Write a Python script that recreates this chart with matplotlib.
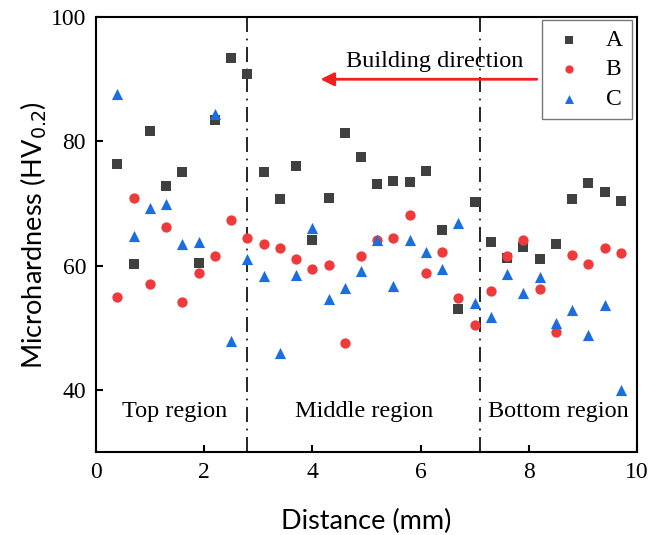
import matplotlib
matplotlib.use("Agg")
import matplotlib.pyplot as plt

distance = [0.4, 0.7, 1.0, 1.3, 1.6, 1.9, 2.2, 2.5, 2.8, 3.1, 3.4, 3.7, 4.0, 4.3, 4.6, 4.9,
            5.2, 5.5, 5.8, 6.1, 6.4, 6.7, 7.0, 7.3, 7.6, 7.9, 8.2, 8.5, 8.8, 9.1, 9.4, 9.7]
series_a = [76.3, 60.2, 81.7, 72.8, 75.1, 60.5, 83.4, 93.5, 90.8, 75.1, 70.8, 76.1, 64.1, 70.9, 81.3, 77.5,
            73.2, 73.6, 73.4, 75.2, 65.7, 53.1, 70.2, 63.8, 61.2, 63.0, 61.0, 63.5, 70.7, 73.3, 71.9, 70.4]
series_b = [55.0, 70.9, 57.0, 66.2, 54.1, 58.9, 61.5, 67.3, 64.5, 63.5, 62.9, 61.1, 59.4, 60.1, 47.5, 61.5,
            64.1, 64.5, 68.1, 58.9, 62.2, 54.8, 50.5, 55.9, 61.5, 64.1, 56.2, 49.4, 61.7, 60.2, 62.9, 62.1]
series_c = [87.7, 64.7, 69.3, 70.0, 63.5, 63.8, 84.4, 47.8, 61.0, 58.3, 45.9, 58.5, 66.1, 54.6, 56.4, 59.2,
            64.2, 56.8, 64.2, 62.2, 59.5, 66.9, 54.0, 51.7, 58.7, 55.6, 58.1, 50.7, 52.9, 48.9, 53.7, 40.0]
series_names = ["A", "B", "C"]
region_names = ["Top region", "Middle region", "Bottom region"]
region_bounds = [2.8, 7.1]
x_ticks = [0, 2, 4, 6, 8, 10]
y_ticks = [40, 60, 80, 100]

serif = ["Liberation Serif", "DejaVu Serif"]
sans = ["Lato", "DejaVu Sans"]

fig = plt.figure(figsize=(6.52, 5.35), dpi=100)
ax = fig.add_axes([0.147, 0.155, 0.83, 0.813])

ax.scatter(distance, series_a, marker="s", s=45, color="#404040", label=series_names[0], zorder=3, linewidths=0)
ax.scatter(distance, series_b, marker="o", s=55, color="#ee3a3a", label=series_names[1], zorder=3, linewidths=0)
ax.scatter(distance, series_c, marker="^", s=65, color="#1c6ede", label=series_names[2], zorder=3, linewidths=0)

for xb in region_bounds:
    ax.axvline(xb, color="black", lw=1.2, linestyle=(0, (9, 4, 1, 4)), zorder=2)

ax.set_xlim(0, 10)
ax.set_ylim(30, 100)
ax.set_xticks(x_ticks)
ax.set_yticks(y_ticks)
ax.tick_params(direction="in", length=5, width=1.5, labelsize=17, pad=7)
for lab in ax.get_xticklabels() + ax.get_yticklabels():
    lab.set_family(serif)
for s in ax.spines.values():
    s.set_linewidth(1.5)

ax.set_xlabel("Distance (mm)", fontsize=19.5, family=sans, labelpad=19)
ax.set_ylabel("Microhardness (HV$_{0.2}$)", fontsize=19.5, family=sans, labelpad=1)

region_x = [1.46, 4.95, 8.54]
for name, rx in zip(region_names, region_x):
    ax.text(rx, 36.6, name, ha="center", va="center", fontsize=17.5, family=serif)

ax.annotate("", xy=(4.1, 90.0), xytext=(8.2, 90.0),
            arrowprops=dict(arrowstyle="-|>", color="#f02020", lw=2, mutation_scale=20))
ax.text(6.27, 92.8, "Building direction", ha="center", va="center", fontsize=17.5, family=serif)

leg = ax.legend(loc="upper right", frameon=True, fancybox=False, edgecolor="#555555",
                prop={"family": serif, "size": 17}, handletextpad=0.8, borderpad=0.4,
                labelspacing=0.33, handlelength=1.5, markerscale=0.8,
                bbox_to_anchor=(0.991, 0.993), borderaxespad=0)
leg.get_frame().set_linewidth(1.0)

fig.savefig("out.png", dpi=100)
